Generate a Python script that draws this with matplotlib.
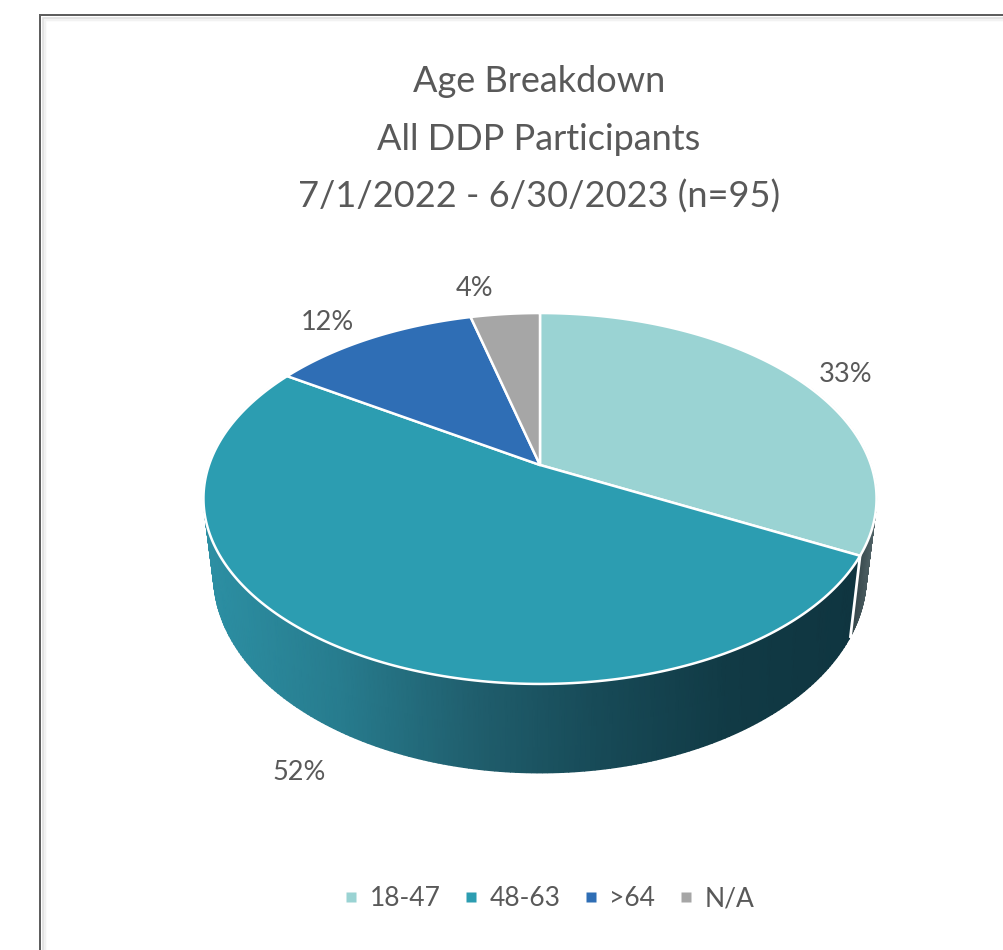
import numpy as np
import matplotlib
matplotlib.use("Agg")
import matplotlib.pyplot as plt
from matplotlib.colors import LinearSegmentedColormap
from matplotlib.lines import Line2D

plt.rcParams['font.family'] = ['Lato', 'DejaVu Sans']

# Chart data
title_lines = ["Age Breakdown", "All DDP Participants", "7/1/2022 - 6/30/2023 (n=95)"]
age_groups = ["18-47", "48-63", ">64", "N/A"]
percent = [33, 52, 12, 4]
slice_colors = ["#9AD3D3", "#2C9DB1", "#2F6EB5", "#A6A6A6"]
label_xy = [(846, 375), (299, 773), (327, 322), (475, 288)]

TEXT = "#595959"

# Tilted-disc geometry, in figure pixels
APEX = (540.0, 465.0)
PERSP = 0.1806
SCALE_X, SCALE_Y = 331.0, 179.4
WALL_SHRINK = 0.97
WALL_BASE, WALL_GROW = 75.0, 14.0


def rim(theta):
    """Point on the top rim for a clockwise angle measured from 12 o'clock."""
    px, py = np.sin(theta), np.cos(theta)
    w = 1 + PERSP * py
    return APEX[0] + SCALE_X * px / w, APEX[1] - SCALE_Y * py / w


def lower_rim(theta):
    x, y = rim(theta)
    dy = y - APEX[1]
    return (APEX[0] + (x - APEX[0]) * WALL_SHRINK,
            APEX[1] + dy + WALL_BASE + WALL_GROW * dy / 219.0)


def wall(ax, t0, t1, cmap, x0, x1):
    theta = np.linspace(t0, t1, 240)
    ux, uy = rim(theta)
    lx, ly = lower_rim(theta)
    X = np.vstack([ux, lx])
    Y = np.vstack([uy, ly])
    ax.pcolormesh(X, Y, X, cmap=cmap, vmin=x0, vmax=x1, shading="gouraud", zorder=2)


fig = plt.figure(figsize=(10.04, 9.5), dpi=100, facecolor="white")
ax = fig.add_axes([0, 0, 1, 1])
ax.set_xlim(0, 1004)
ax.set_ylim(950, 0)
ax.axis("off")

# Frame with its soft inner shadow
for off, col, lw in [(5, "#F2F2F2", 2.5), (3, "#DEDEDE", 1.6), (0, "#5E5E5E", 2.0)]:
    ax.plot([40 + off, 40 + off, 1004], [950, 15 + off, 15 + off],
            color=col, lw=lw * 0.72, solid_joinstyle="miter", zorder=1)

# Slice boundaries from the percentages
fractions = np.array(percent, dtype=float) / sum(percent)
edges = 2 * np.pi * np.concatenate([[0], np.cumsum(fractions)])

# Side wall: only the first two slices face the viewer
light_wall = LinearSegmentedColormap.from_list("lw", ["#2F3F43", "#46585C", "#5A6B6F"])
teal_wall = LinearSegmentedColormap.from_list(
    "tw", ["#2C8FA3", "#277C8E", "#205F6E", "#174A57", "#113A45", "#0F3540"])
wall(ax, np.radians(60), edges[1], light_wall, 850, 876)
wall(ax, edges[1], edges[2], teal_wall, 210, 860)

# White seam between the two wall sections
ux, uy = rim(edges[1])
lx, ly = lower_rim(edges[1])
ax.plot([ux, lx], [uy, ly], color="white", lw=2.0, zorder=3)

# Top face
for i, col in enumerate(slice_colors):
    theta = np.linspace(edges[i], edges[i + 1], 200)
    x, y = rim(theta)
    ax.fill(np.r_[APEX[0], x], np.r_[APEX[1], y], facecolor=col, edgecolor="white",
            lw=1.8, joinstyle="round", zorder=4)

# Data labels
for p, (lx_, ly_) in zip(percent, label_xy):
    ax.text(lx_, ly_, f"{p}%", ha="center", va="center", color=TEXT, fontsize=19.5, zorder=5)

# Title
for line, yy in zip(title_lines, [81, 139, 197]):
    ax.text(539, yy, line, ha="center", va="center", color=TEXT, fontsize=26, zorder=5)

# Legend
handles = [Line2D([], [], ls="", marker="s", ms=7.2, mfc=c, mec="none") for c in slice_colors]
ax.legend(handles, age_groups, ncol=4, loc="center", bbox_to_anchor=(0.546, 1 - 899 / 950),
          frameon=False, fontsize=19, labelcolor=TEXT, handlelength=0.7, handletextpad=0.35,
          columnspacing=0.8, borderpad=0)

fig.savefig("out.png", dpi=100, facecolor="white")
